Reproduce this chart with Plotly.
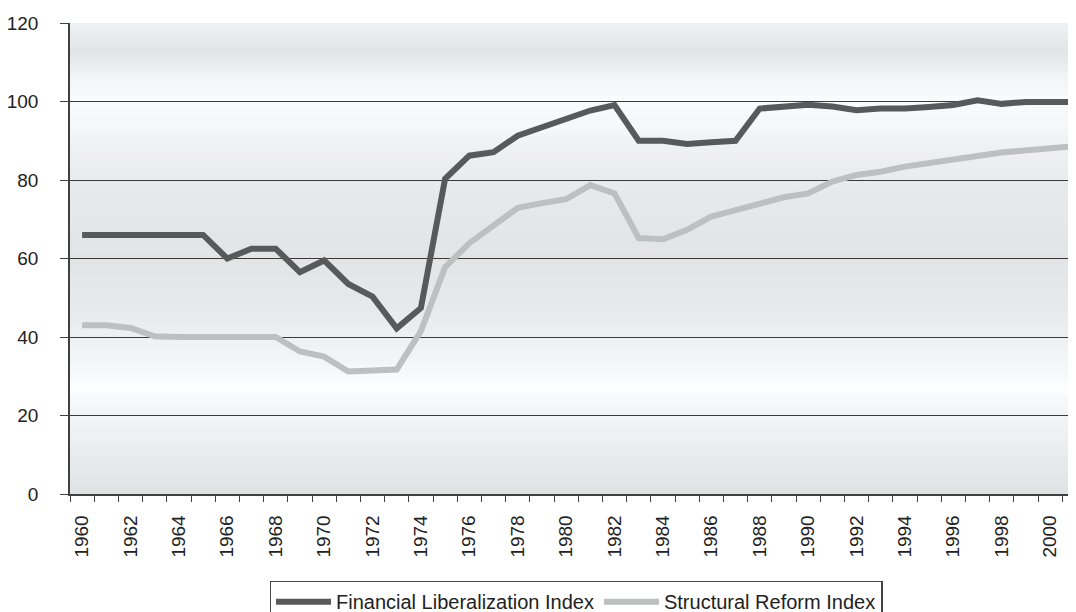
import plotly.graph_objects as go
import numpy as np

years = list(range(1960, 2002))
financial_lib = [66, 66, 66, 66, 66, 66, 60, 62.5, 62.5, 56.5, 59.5, 53.5, 50.3, 42.2, 47.4,
                 80.3, 86.2, 87.1, 91.3, 93.5, 95.3, 97.7, 99.1, 90, 90, 89.2, 89.6, 90,
                 98.2, 98.6, 99.2, 98.7, 97.8, 98.2, 98.2, 98.6, 99.1, 100.3, 99.4, 99.9, 99.9, 99.9]
structural_ref = [43, 43, 42.3, 40.2, 40, 40, 40, 40, 40, 36.3, 35, 31.2, 31.3, 31.7, 41.5,
                  57.8, 63.9, 68.5, 72.9, 74.1, 75.1, 78.7, 76.6, 65.2, 64.9, 67.3, 70.7, 72.3,
                  74.1, 75.6, 76.6, 79.6, 81.3, 82.1, 83.4, 84.4, 85.3, 86.1, 87, 87.5, 88, 88.6]
tick_years = list(range(1960, 2001, 2))
tick_text = [str(y) for y in tick_years]

DARK = "#58595b"
LIGHT = "#bebfc1"
FONT = "Liberation Sans, Arial, sans-serif"

fig = go.Figure()
fig.add_trace(go.Scatter(x=years, y=financial_lib, mode="lines",
                         name="Financial Liberalization Index",
                         line=dict(color=DARK, width=6)))
fig.add_trace(go.Scatter(x=years, y=structural_ref, mode="lines",
                         name="Structural Reform Index",
                         line=dict(color=LIGHT, width=6)))

# background gradient bands (decoration)
stops_v = [0, 10, 20, 28, 40, 50, 62, 80, 90, 100.3, 106, 113, 120]
stops_g = [226, 236, 246, 255, 240, 232, 228, 235, 244, 255, 245, 228, 242]
shapes = []
step = 0.5
v = 0.0
while v < 120:
    g = np.interp(v + step / 2, stops_v, stops_g)
    r, gg, b = int(g - 1), int(g), int(min(255, g + 2))
    shapes.append(dict(type="rect", xref="paper", yref="y", x0=0, x1=1, y0=v, y1=v + step,
                       fillcolor=f"rgb({r},{gg},{b})", line=dict(width=0), layer="below"))
    v += step

fig.update_layout(
    width=1068, height=604,
    margin=dict(l=62, r=0, t=15, b=118, autoexpand=False),
    paper_bgcolor="white",
    plot_bgcolor="#e6e7e9",
    shapes=shapes,
    font=dict(family=FONT, size=20, color="#222222"),
    showlegend=True,
    legend=dict(orientation="h", x=0.503, xanchor="center", y=-0.184, yanchor="top",
                bordercolor="#444444", borderwidth=1.5, bgcolor="white",
                font=dict(size=20, color="#222222"), itemwidth=55,
                tracegroupgap=0),
    xaxis=dict(range=[1959.5, 2001.07], tickmode="array", tickvals=tick_years, ticktext=tick_text,
               tickangle=-90, ticks="", showgrid=False, zeroline=False, automargin=False,
               showline=True, linecolor="#404040", linewidth=1.5,
               tickfont=dict(size=19, color="#222222"), ticklabelstandoff=12,
               minor=dict(ticks="outside", tick0=1959.5, dtick=1, ticklen=6,
                          tickcolor="#404040", tickwidth=1.3, showgrid=False)),
    yaxis=dict(range=[0, 120], tickmode="linear", tick0=0, dtick=20, automargin=False,
               ticks="outside", ticklen=8, tickcolor="#404040", tickwidth=1.3,
               showgrid=True, gridcolor="#3a3a3a", gridwidth=1.2, zeroline=False,
               showline=True, linecolor="#404040", linewidth=1.5,
               tickfont=dict(size=19, color="#222222"), ticklabelstandoff=18),
)

fig.write_html("out.html")
